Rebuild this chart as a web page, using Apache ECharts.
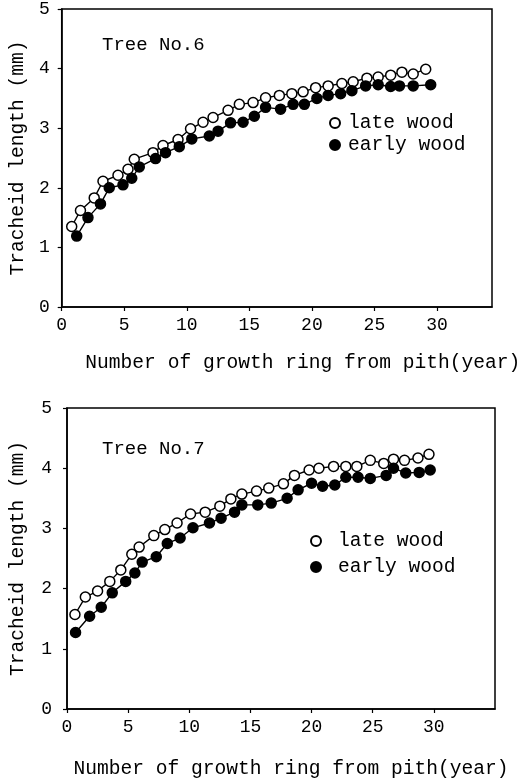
<!DOCTYPE html>
<html>
<head>
<meta charset="utf-8">
<script src="https://cdn.jsdelivr.net/npm/echarts@6/dist/echarts.min.js"></script>
<style>
  html, body { margin: 0; padding: 0; background: #fff; }
  #chart { width: 526px; height: 780px; }
</style>
</head>
<body>
<div id="chart"></div>
<script>
// values (x = growth ring from pith, y = tracheid length in mm)
var tree6LateX = [0.8, 1.5, 2.6, 3.3, 4.5, 5.3, 5.8, 7.3, 8.1, 9.3, 10.3, 11.3, 12.1, 13.3, 14.2, 15.3, 16.3, 17.4, 18.4, 19.3, 20.3, 21.3, 22.4, 23.3, 24.4, 25.3, 26.3, 27.2, 28.1, 29.1];
var tree6LateY = [1.35, 1.62, 1.83, 2.11, 2.21, 2.31, 2.48, 2.59, 2.71, 2.81, 2.99, 3.10, 3.18, 3.30, 3.40, 3.43, 3.51, 3.55, 3.58, 3.61, 3.68, 3.71, 3.75, 3.78, 3.84, 3.86, 3.89, 3.94, 3.91, 3.99];
var tree6EarlyX = [1.2, 2.1, 3.1, 3.8, 4.9, 5.6, 6.2, 7.5, 8.3, 9.4, 10.4, 11.8, 12.5, 13.5, 14.5, 15.4, 16.3, 17.5, 18.5, 19.4, 20.4, 21.3, 22.3, 23.2, 24.3, 25.3, 26.3, 27.0, 28.1, 29.5];
var tree6EarlyY = [1.19, 1.50, 1.73, 2.00, 2.05, 2.16, 2.35, 2.49, 2.59, 2.69, 2.82, 2.87, 2.95, 3.09, 3.10, 3.20, 3.35, 3.32, 3.40, 3.40, 3.50, 3.55, 3.58, 3.63, 3.71, 3.73, 3.70, 3.71, 3.71, 3.73];

var tree7LateX = [0.65, 1.5, 2.5, 3.5, 4.4, 5.3, 5.9, 7.1, 8.0, 9.0, 10.1, 11.3, 12.5, 13.4, 14.3, 15.5, 16.5, 17.7, 18.6, 19.8, 20.6, 21.8, 22.8, 23.7, 24.8, 25.9, 26.7, 27.6, 28.7, 29.6];
var tree7LateY = [1.57, 1.86, 1.96, 2.12, 2.31, 2.57, 2.69, 2.88, 2.98, 3.09, 3.24, 3.27, 3.37, 3.49, 3.57, 3.62, 3.67, 3.74, 3.88, 3.97, 4.00, 4.03, 4.03, 4.03, 4.13, 4.08, 4.15, 4.13, 4.17, 4.23];
var tree7EarlyX = [0.7, 1.85, 2.8, 3.7, 4.8, 5.55, 6.15, 7.3, 8.2, 9.25, 10.3, 11.65, 12.6, 13.7, 14.3, 15.6, 16.7, 18.0, 18.9, 20.0, 20.9, 21.9, 22.8, 23.8, 24.8, 26.1, 26.7, 27.7, 28.8, 29.7];
var tree7EarlyY = [1.27, 1.54, 1.69, 1.93, 2.12, 2.26, 2.44, 2.53, 2.75, 2.84, 3.01, 3.09, 3.17, 3.27, 3.39, 3.39, 3.42, 3.50, 3.64, 3.75, 3.70, 3.72, 3.85, 3.85, 3.83, 3.88, 4.00, 3.92, 3.93, 3.97];

var panelTitles = ["Tree No.6", "Tree No.7"];
var seriesNames = ["late wood", "early wood"];
var xName = "Number of growth ring from pith(year)";
var yName = "Tracheid length (mm)";

var FONT = "Liberation Mono";

function pairs(xs, ys) {
  return xs.map(function (x, i) { return [x, ys[i]]; });
}

function lineSeries(name, idx, xs, ys, filled) {
  return {
    type: "line",
    name: name,
    xAxisIndex: idx,
    yAxisIndex: idx,
    data: pairs(xs, ys),
    symbol: "circle",
    symbolSize: 10,
    lineStyle: { color: "#000", width: 1.4 },
    itemStyle: { color: filled ? "#000" : "#fff", borderColor: "#000", borderWidth: 1.5 },
    emphasis: { disabled: true },
    animation: false
  };
}

function xAxisOpt(idx, max, nameGap, shift) {
  return {
    type: "value",
    gridIndex: idx,
    min: 0,
    max: max,
    interval: 5,
    axisLine: { lineStyle: { color: "#000", width: 1.5 } },
    axisTick: { length: 4, lineStyle: { color: "#000", width: 1.2 } },
    splitLine: { show: false },
    axisLabel: { margin: 9, fontSize: 18, fontFamily: FONT, color: "#000", showMaxLabel: false },
    name: xName,
    nameLocation: "middle",
    nameGap: nameGap,
    nameTextStyle: { fontSize: 19.6, fontFamily: FONT, color: "#000", padding: [0, 0, 0, shift] }
  };
}

function yAxisOpt(idx, nameGap, margin) {
  return {
    type: "value",
    gridIndex: idx,
    min: 0,
    max: 5,
    interval: 1,
    axisLine: { lineStyle: { color: "#000", width: 1.5 } },
    axisTick: { length: 4, lineStyle: { color: "#000", width: 1.2 } },
    splitLine: { show: false },
    axisLabel: { margin: margin, fontSize: 18, fontFamily: FONT, color: "#000" },
    name: yName,
    nameLocation: "middle",
    nameGap: nameGap,
    nameTextStyle: { fontSize: 19.6, fontFamily: FONT, color: "#000" }
  };
}

function legendOpt(left, top, gap, textPad) {
  return {
    left: left,
    top: top,
    orient: "vertical",
    padding: 0,
    itemGap: gap,
    itemWidth: 10,
    itemHeight: 10,
    selectedMode: false,
    data: [
      { name: seriesNames[0], icon: "circle" },
      { name: seriesNames[1], icon: "circle" }
    ],
    textStyle: { fontSize: 19.6, fontFamily: FONT, color: "#000", padding: [0, 0, 0, textPad] }
  };
}

var chart = echarts.init(document.getElementById("chart"));
chart.setOption({
  backgroundColor: "#fff",
  animation: false,
  title: [
    { text: panelTitles[0], left: 97, top: 30, padding: 5,
      textStyle: { fontFamily: FONT, fontSize: 19, fontWeight: "normal", color: "#000" } },
    { text: panelTitles[1], left: 97, top: 434, padding: 5,
      textStyle: { fontFamily: FONT, fontSize: 19, fontWeight: "normal", color: "#000" } }
  ],
  legend: [legendOpt(329, 113, 2, 3), legendOpt(310, 531, 6, 12)],
  grid: [
    { left: 60, top: 5, width: 432, height: 302, show: true, borderColor: "#000", borderWidth: 1.5 },
    { left: 63, top: 408, width: 432, height: 302, show: true, borderColor: "#000", borderWidth: 1.5 }
  ],
  xAxis: [xAxisOpt(0, 34.4, 46, 52), xAxisOpt(1, 35, 50, 20)],
  yAxis: [yAxisOpt(0, 32, 12), yAxisOpt(1, 39, 15)],
  series: [
    lineSeries(seriesNames[0], 0, tree6LateX, tree6LateY, false),
    lineSeries(seriesNames[1], 0, tree6EarlyX, tree6EarlyY, true),
    lineSeries(seriesNames[0], 1, tree7LateX, tree7LateY, false),
    lineSeries(seriesNames[1], 1, tree7EarlyX, tree7EarlyY, true)
  ]
});
</script>
</body>
</html>
